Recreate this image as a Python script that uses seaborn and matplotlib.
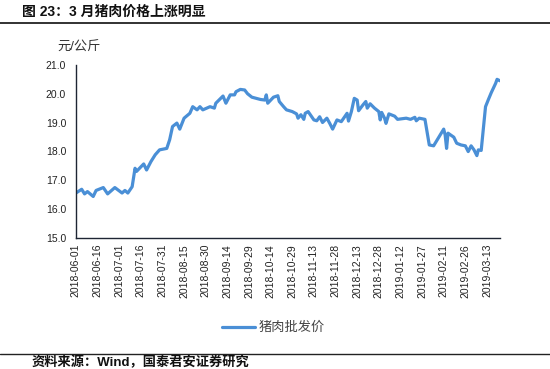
import pandas as pd
import matplotlib
matplotlib.use("Agg")
import matplotlib.pyplot as plt
import seaborn as sns

# %% data (days after 2018-06-01, price in yuan/kg)
start_date = "2018-06-01"
day_offset = [0, 4, 6, 8, 12, 14, 19, 22, 27, 32, 34, 36, 39, 41, 42, 47, 49, 52,
              55, 58, 63, 65, 67, 70, 72, 75, 79, 81, 84, 86, 88, 93, 96, 97,
              102, 104, 107, 110, 111, 114, 117, 119, 122, 128, 131, 132, 133,
              137, 140, 141, 144, 146, 150, 153, 154, 156, 158, 159, 161, 165,
              167, 169, 171, 174, 176, 178, 181, 184, 188, 189, 191, 193, 195,
              196, 199, 201, 202, 204, 207, 210, 211, 212, 214, 215, 217, 221,
              223, 229, 232, 235, 236, 238, 242, 245, 248, 255, 256, 257, 258,
              262, 264, 267, 270, 272, 274, 276, 278, 279, 281, 284, 286, 288,
              291, 292, 294]
price = [16.55, 16.68, 16.52, 16.60, 16.43, 16.64, 16.74, 16.52, 16.74, 16.55,
         16.64, 16.55, 16.77, 17.41, 17.30, 17.56, 17.35, 17.64, 17.88, 18.05,
         18.10, 18.40, 18.86, 18.98, 18.77, 19.15, 19.32, 19.55, 19.44, 19.55,
         19.44, 19.55, 19.50, 19.67, 19.92, 19.67, 19.96, 19.96, 20.07, 20.15,
         20.13, 20.00, 19.88, 19.80, 19.78, 19.96, 19.67, 19.88, 19.93, 19.73,
         19.55, 19.44, 19.38, 19.30, 19.15, 19.27, 19.11, 19.32, 19.38, 19.09,
         19.06, 19.20, 19.00, 19.15, 18.97, 18.77, 19.09, 19.03, 19.32, 19.05,
         19.38, 19.84, 19.78, 19.41, 19.61, 19.73, 19.50, 19.65, 19.50, 19.38,
         19.09, 19.35, 19.15, 18.97, 19.30, 19.22, 19.11, 19.15, 19.11, 19.18,
         19.06, 19.15, 19.11, 18.22, 18.19, 18.77, 18.57, 18.10, 18.63, 18.49,
         18.28, 18.22, 18.19, 17.99, 18.19, 18.05, 17.85, 18.05, 18.03, 19.55,
         19.80, 20.04, 20.36, 20.50, 20.45]
series_name = "猪肉批发价"
y_ticks = [15.0, 16.0, 17.0, 18.0, 19.0, 20.0, 21.0]

df = pd.DataFrame({"date": pd.Timestamp(start_date) + pd.to_timedelta(day_offset, unit="D"),
                   "price": price})
tick_dates = pd.date_range(start_date, "2019-03-13", freq="15D")

# %% plot
sns.set_theme(style="white")
plt.rcParams["font.family"] = ["Liberation Sans", "Noto Sans CJK SC"]

fig = plt.figure(figsize=(5.5, 3.69), dpi=100)
ax = fig.add_axes([0.138, 0.356, 0.771, 0.468])

sns.lineplot(data=df, x="date", y="price", ax=ax, color="#4a8fd6",
             linewidth=2.3, label=series_name, legend=False)

ax.set_xlim(pd.Timestamp(start_date), pd.Timestamp(start_date) + pd.Timedelta(days=294))
ax.set_ylim(15, 21)
ax.set_yticks(y_ticks)
ax.set_yticklabels([f"{v:.1f}" for v in y_ticks], fontsize=7.5, color="#222222")
ax.set_xticks(tick_dates)
ax.set_xticklabels([d.strftime("%Y-%m-%d") for d in tick_dates], rotation=90,
                   fontsize=7.5, color="#222222")
ax.set_xlabel("")
ax.set_ylabel("")
for s in ["top", "right"]:
    ax.spines[s].set_visible(False)
for s in ["left", "bottom"]:
    ax.spines[s].set_color("#1e2533")
    ax.spines[s].set_linewidth(1.0)
ax.tick_params(axis="x", direction="inout", length=5, width=0.9, color="#1e2533", pad=2)
ax.tick_params(axis="y", direction="out", length=3, width=0.9, color="#1e2533", pad=4)

fig.text(0.104, 0.87, "元/公斤", fontsize=9.5, color="#333333", va="center")

handles, labels = ax.get_legend_handles_labels()
fig.legend(handles, labels, loc="center", bbox_to_anchor=(0.497, 0.111), frameon=False,
           fontsize=9.5, handlelength=2.5, handletextpad=0.3, labelcolor="#444444")

# title and source lines
fig.text(0.04, 0.968, "图 23：3 月猪肉价格上涨明显", fontsize=10, fontweight="bold",
         va="center", color="#111111")
fig.add_artist(plt.Line2D([0, 1], [0.938, 0.938], color="#222222", linewidth=1.3))
fig.add_artist(plt.Line2D([0, 1], [0.042, 0.042], color="#222222", linewidth=1.0))
fig.text(0.057, 0.019, "资料来源：Wind，国泰君安证券研究", fontsize=9.5, fontweight="bold",
         va="center", color="#111111")

fig.savefig("out.png", dpi=100)
